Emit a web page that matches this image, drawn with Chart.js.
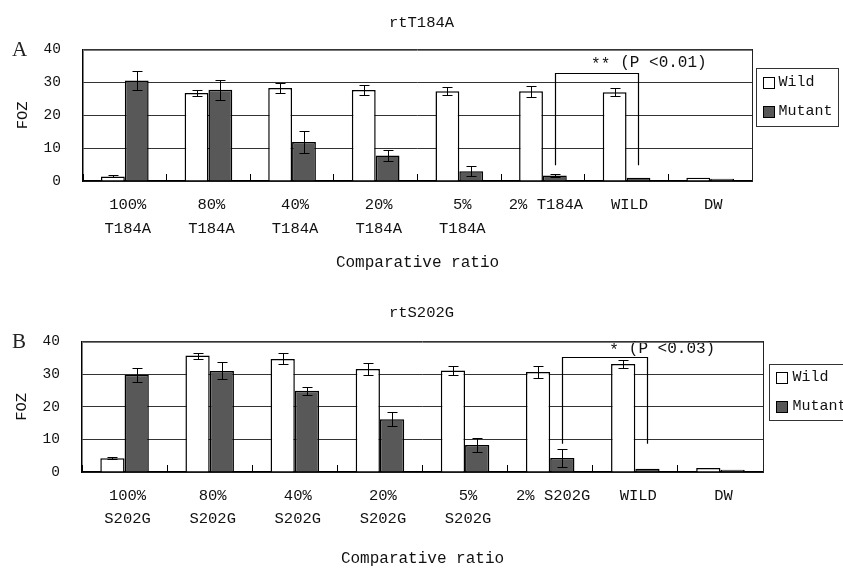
<!DOCTYPE html>
<html>
<head>
<meta charset="utf-8">
<script src="https://cdn.jsdelivr.net/npm/chart.js@4.4.1/dist/chart.umd.min.js"></script>
<style>
  html, body { margin: 0; padding: 0; background: #fff; }
  canvas { display: block; }
</style>
</head>
<body>
<canvas id="chartA" width="843" height="280"></canvas>
<canvas id="chartB" width="843" height="289"></canvas>
<script>
const MONO = '"Liberation Mono", "DejaVu Sans Mono", monospace';

// panel A: rtT184A
const categoriesA = [['100%', 'T184A'], ['80%', 'T184A'], ['40%', 'T184A'], ['20%', 'T184A'], ['5%', 'T184A'], '2% T184A', 'WILD', 'DW'];
const wildA = [1.4, 26.8, 28.3, 27.7, 27.3, 27.3, 27.0, 1.0];
const wildErrA = [0.3, 0.8, 1.5, 1.4, 1.2, 1.7, 1.2, 0];
const mutantA = [30.6, 27.8, 11.9, 7.8, 3.0, 1.7, 1.0, 0.7];
const mutantErrA = [3.0, 3.0, 3.3, 1.7, 1.6, 0.4, 0, 0];
// bracket: from category, to category, top value, leg bottom value, label value
const sigA = { from: 5, to: 6, top: 33.0, legs: 4.8, textAt: 36.0, stars: '**', text: '(P <0.01)' };

// panel B: rtS202G
const categoriesB = [['100%', 'S202G'], ['80%', 'S202G'], ['40%', 'S202G'], ['20%', 'S202G'], ['5%', 'S202G'], '2% S202G', 'WILD', 'DW'];
const wildB = [4.2, 35.7, 34.7, 31.6, 31.1, 30.7, 33.1, 1.2];
const wildErrB = [0.3, 0.9, 1.7, 1.7, 1.4, 1.8, 1.2, 0];
const mutantB = [29.8, 31.0, 24.9, 16.2, 8.3, 4.3, 1.0, 0.7];
const mutantErrB = [2.2, 2.6, 1.2, 2.2, 2.2, 2.8, 0, 0];
const sigB = { from: 5, to: 6, top: 35.3, legs: 8.7, textAt: 37.9, stars: '*', text: '(P <0.03)' };

const yTicks = [0, 10, 20, 30, 40];
const seriesNames = ['Wild', 'Mutant'];
const seriesColors = ['#ffffff', '#585858'];

const extrasPlugin = {
    id: 'extras',
    afterDatasetsDraw(chart, args, opts) {
        const ctx = chart.ctx;
        const y = chart.scales.y;
        const area = chart.chartArea;

        ctx.save();
        ctx.strokeStyle = '#000';
        ctx.lineWidth = 1;

        // error bars
        chart.data.datasets.forEach((ds, di) => {
            const meta = chart.getDatasetMeta(di);
            meta.data.forEach((bar, i) => {
                const err = ds.errors[i];
                if (!err) return;
                const v = ds.data[i];
                const yTop = Math.round(y.getPixelForValue(v + err)) + 0.5;
                const yBot = Math.round(y.getPixelForValue(v - err)) + 0.5;
                const x = Math.round(bar.x) + 0.5;
                ctx.beginPath();
                ctx.moveTo(x, yTop); ctx.lineTo(x, yBot);
                ctx.moveTo(x - 5, yTop); ctx.lineTo(x + 5, yTop);
                ctx.moveTo(x - 5, yBot); ctx.lineTo(x + 5, yBot);
                ctx.stroke();
            });
        });

        // significance bracket between mutant bars
        const sig = opts.sig;
        const mutMeta = chart.getDatasetMeta(1);
        const x1 = Math.round(mutMeta.data[sig.from].x) + 0.5;
        const x2 = Math.round(mutMeta.data[sig.to].x) + 0.5;
        const yTop = Math.round(y.getPixelForValue(sig.top)) + 0.5;
        const yLeg = y.getPixelForValue(sig.legs);
        ctx.lineWidth = 1.2;
        ctx.beginPath();
        ctx.moveTo(x1, yLeg); ctx.lineTo(x1, yTop); ctx.lineTo(x2, yTop); ctx.lineTo(x2, yLeg);
        ctx.stroke();

        ctx.fillStyle = '#111';
        ctx.font = '16px ' + MONO;
        ctx.textBaseline = 'middle';
        const tx = x1 + 0.78 * (x2 - x1);
        const ty = y.getPixelForValue(sig.textAt);
        ctx.textAlign = 'left';
        ctx.fillText(sig.text, tx, ty);
        ctx.textAlign = 'right';
        ctx.fillText(sig.stars, tx - 10, ty + 2);

        // top frame of the plot
        ctx.lineWidth = 1;
        ctx.strokeStyle = '#777';
        ctx.beginPath();
        ctx.moveTo(area.left, Math.round(area.top) + 0.5);
        ctx.lineTo(area.right, Math.round(area.top) + 0.5);
        ctx.stroke();

        // panel letter
        ctx.fillStyle = '#222';
        ctx.font = '21px "Liberation Serif", serif';
        ctx.textAlign = 'left';
        ctx.fillText(opts.panel, 12, area.top + 1);

        // legend box
        const lg = opts.legend;
        const bx = Math.round(area.right + lg.dx) + 0.5;
        const by = Math.round(area.top + lg.dy) + 0.5;
        ctx.strokeStyle = '#333';
        ctx.strokeRect(bx, by, lg.w, lg.h);
        ctx.font = '15px ' + MONO;
        chart.data.datasets.forEach((ds, di) => {
            const cy = by + lg.rows[di];
            ctx.fillStyle = ds.backgroundColor;
            ctx.fillRect(bx + 7, Math.round(cy - 5.5) + 0.5, 11, 11);
            ctx.strokeStyle = '#000';
            ctx.strokeRect(bx + 7, Math.round(cy - 5.5) + 0.5, 11, 11);
            ctx.fillStyle = '#111';
            ctx.textAlign = 'left';
            ctx.fillText(ds.label, bx + lg.textDx, cy);
        });
        ctx.restore();
    }
};

function makeChart(id, cfg) {
    const ctx = document.getElementById(id).getContext('2d');
    return new Chart(ctx, {
        type: 'bar',
        data: {
            labels: cfg.labels,
            datasets: [{
                label: seriesNames[0],
                data: cfg.wild,
                errors: cfg.wildErr,
                backgroundColor: seriesColors[0],
                borderColor: '#000',
                borderWidth: 1.5
            }, {
                label: seriesNames[1],
                data: cfg.mutant,
                errors: cfg.mutantErr,
                backgroundColor: seriesColors[1],
                borderColor: '#000',
                borderWidth: 1.5
            }]
        },
        options: {
            responsive: false,
            animation: false,
            devicePixelRatio: 1,
            categoryPercentage: 0.57,
            barPercentage: 1.0,
            layout: { padding: 0 },
            scales: {
                x: {
                    afterFit: s => { s.height = cfg.xHeight; },
                    grid: {
                        display: true,
                        drawOnChartArea: false,
                        drawTicks: true,
                        tickLength: -7,
                        color: '#000'
                    },
                    border: { display: true, color: '#000', width: 1.5 },
                    ticks: {
                        autoSkip: false,
                        maxRotation: 0,
                        padding: cfg.xPad,
                        labelOffset: 3,
                        color: '#111',
                        font: { family: MONO, size: 15.5, lineHeight: cfg.xLine }
                    },
                    title: {
                        display: true,
                        text: 'Comparative ratio',
                        color: '#111',
                        font: { family: MONO, size: 16 },
                        padding: { top: 0, bottom: cfg.xTitlePad }
                    }
                },
                y: {
                    min: 0,
                    max: 40,
                    afterFit: s => { s.width = cfg.yWidth; },
                    afterBuildTicks: s => { s.ticks = yTicks.map(v => ({ value: v })); },
                    grid: {
                        drawTicks: false,
                        color: '#333'
                    },
                    border: { display: true, color: '#000', width: 1.5 },
                    ticks: {
                        padding: 22,
                        color: '#111',
                        font: { family: MONO, size: 14.5 }
                    },
                    title: {
                        display: true,
                        text: 'FOZ',
                        color: '#111',
                        font: { family: MONO, size: 15.5 },
                        padding: { top: cfg.yTitlePad, bottom: 0 }
                    }
                },
                // right-hand axis only frames the plot and keeps room for the legend
                y2: {
                    position: 'right',
                    min: 0,
                    max: 40,
                    afterFit: s => { s.width = cfg.padRight; },
                    grid: { display: false },
                    border: { display: true, color: '#222', width: 1 },
                    ticks: { display: false }
                }
            },
            plugins: {
                legend: { display: false },
                tooltip: { enabled: false },
                title: {
                    display: true,
                    text: cfg.title,
                    color: '#111',
                    font: { family: MONO, size: 15.5, weight: 'normal' },
                    padding: { top: cfg.titleTop, bottom: cfg.titleBottom }
                },
                extras: {
                    panel: cfg.panel,
                    sig: cfg.sig,
                    legend: cfg.legend
                }
            }
        },
        plugins: [extrasPlugin]
    });
}

makeChart('chartA', {
    labels: categoriesA, wild: wildA, wildErr: wildErrA, mutant: mutantA, mutantErr: mutantErrA,
    sig: sigA, title: 'rtT184A', panel: 'A',
    padRight: 91, xHeight: 99, yWidth: 83, xPad: 19, xLine: 1.55, xTitlePad: 8, yTitlePad: 14,
    titleTop: 14, titleBottom: 17,
    legend: { dx: 4, dy: 18.5, w: 82, h: 58, rows: [14, 43], textDx: 22 }
});

makeChart('chartB', {
    labels: categoriesB, wild: wildB, wildErr: wildErrB, mutant: mutantB, mutantErr: mutantErrB,
    sig: sigB, title: 'rtS202G', panel: 'B',
    padRight: 80, xHeight: 97, yWidth: 82, xPad: 20, xLine: 1.45, xTitlePad: 1, yTitlePad: 13,
    titleTop: 24, titleBottom: 19,
    legend: { dx: 6, dy: 22, w: 82, h: 56, rows: [13, 42], textDx: 23 }
});
</script>
</body>
</html>
